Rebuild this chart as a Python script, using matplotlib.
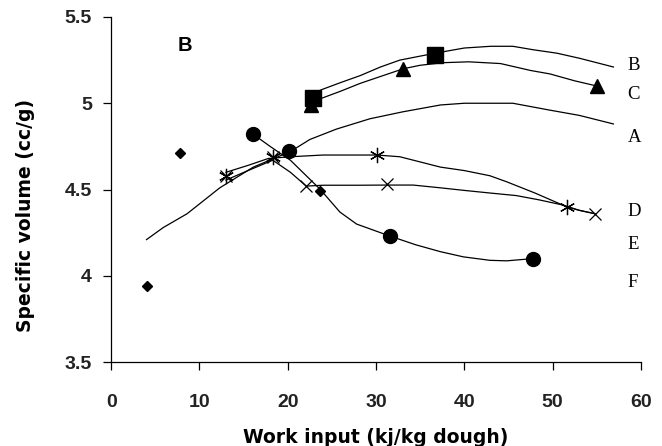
import matplotlib.pyplot as plt
import numpy as np

# markers (raw points)
a_x = [4.0, 7.8, 23.7]
a_y = [3.94, 4.71, 4.49]
b_x = [22.9, 36.7]
b_y = [5.03, 5.28]
c_x = [22.6, 33.1, 55.0]
c_y = [4.99, 5.20, 5.10]
d_x = [13.0, 18.3, 30.1, 51.6]
d_y = [4.58, 4.69, 4.70, 4.40]
e_x = [13.0, 18.3, 22.1, 31.2, 54.8]
e_y = [4.58, 4.69, 4.52, 4.53, 4.36]
f_x = [16.1, 20.1, 31.6, 47.8]
f_y = [4.82, 4.725, 4.23, 4.10]

# curves
a_cx = [4.0, 5.9, 8.6, 12.3, 16.1, 20.3, 22.5, 25.5, 29.3, 33.0, 37.3, 40.0, 45.5, 49.7, 53.0, 56.9]
a_cy = [4.21, 4.28, 4.36, 4.51, 4.63, 4.72, 4.79, 4.85, 4.91, 4.95, 4.99, 5.0, 5.0, 4.96, 4.93, 4.88]
b_cx = [23.0, 23.9, 26.0, 28.2, 30.5, 32.7, 36.7, 40.0, 43.0, 45.5, 47.8, 50.5, 53.1, 56.9]
b_cy = [5.06, 5.08, 5.12, 5.16, 5.21, 5.25, 5.29, 5.32, 5.33, 5.33, 5.31, 5.29, 5.26, 5.21]
c_cx = [23.0, 23.9, 26.0, 28.2, 30.5, 33.1, 35.0, 37.6, 40.5, 44.1, 47.5, 49.7, 52.5, 55.0]
c_cy = [5.02, 5.03, 5.07, 5.115, 5.155, 5.20, 5.22, 5.235, 5.24, 5.23, 5.19, 5.17, 5.13, 5.10]
d_cx = [13.0, 15.5, 17.8, 20.3, 24.0, 27.0, 30.1, 32.7, 35.0, 37.3, 40.0, 42.9, 44.8, 48.0, 51.6, 53.0, 54.8]
d_cy = [4.60, 4.64, 4.68, 4.69, 4.70, 4.70, 4.70, 4.69, 4.66, 4.63, 4.61, 4.58, 4.545, 4.48, 4.40, 4.38, 4.36]
e_cx = [13.0, 15.5, 17.6, 18.3, 20.3, 22.1, 24.0, 28.0, 31.2, 34.2, 37.3, 40.0, 42.9, 45.9, 48.5, 51.2, 53.0, 54.8]
e_cy = [4.555, 4.61, 4.655, 4.67, 4.60, 4.52, 4.525, 4.525, 4.526, 4.526, 4.51, 4.495, 4.48, 4.465, 4.44, 4.41, 4.38, 4.36]
f_cx = [16.1, 18.0, 20.3, 22.5, 23.7, 25.9, 27.8, 31.6, 34.5, 37.3, 39.9, 42.9, 44.8, 47.8]
f_cy = [4.82, 4.75, 4.67, 4.56, 4.50, 4.37, 4.30, 4.23, 4.18, 4.14, 4.11, 4.09, 4.087, 4.10]

labels = ['B', 'C', 'A', 'D', 'E', 'F']
label_y = [5.22, 5.048, 4.804, 4.37, 4.184, 3.964]

fig = plt.figure(figsize=(6.62, 4.46), dpi=100)
ax = fig.add_axes([0.168, 0.188, 0.8, 0.774])

lw = 0.9
for cx, cy in [(a_cx, a_cy), (b_cx, b_cy), (c_cx, c_cy), (d_cx, d_cy), (e_cx, e_cy), (f_cx, f_cy)]:
    ax.plot(cx, cy, color='black', lw=lw)

ax.plot(a_x, a_y, 'D', color='black', ms=5.5, ls='none')
ax.plot(b_x, b_y, 's', color='black', ms=11, ls='none')
ax.plot(c_x, c_y, '^', color='black', ms=10, ls='none')
ax.plot(d_x, d_y, marker=(6, 2, 0), color='black', ms=11, mew=0.9, ls='none')
ax.plot(e_x, e_y, 'x', color='black', ms=9, mew=0.9, ls='none')
ax.plot(f_x, f_y, 'o', color='black', ms=10, ls='none')

for lab, ly in zip(labels, label_y):
    ax.text(58.5, ly, lab, ha='left', va='center', fontsize=13.5,
            family='Liberation Serif', clip_on=False)

ax.text(8.4, 5.334, 'B', ha='center', va='center', fontsize=14.5,
        fontweight='bold', family='Liberation Sans')

ax.set_xlim(0, 60)
ax.set_ylim(3.5, 5.5)
ax.set_xticks(np.arange(0, 61, 10))
ax.set_yticks([3.5, 4, 4.5, 5, 5.5])
ax.set_yticklabels(['3.5', '4', '4.5', '5', '5.5'])
for s in ['top', 'right']:
    ax.spines[s].set_visible(False)
for s in ['left', 'bottom']:
    ax.spines[s].set_linewidth(0.9)
ax.tick_params(axis='both', direction='out', length=6, width=0.9)
ax.tick_params(axis='x', pad=17)
ax.tick_params(axis='y', pad=8)
for t in ax.get_xticklabels() + ax.get_yticklabels():
    t.set_fontsize(14)
    t.set_fontweight('bold')
    t.set_family('Liberation Sans')
    t.set_color('#222222')

ax.set_xlabel('Work input (kj/kg dough)', fontsize=13.5, fontweight='bold', labelpad=12)
ax.set_ylabel('Specific volume (cc/g)', fontsize=13.5, fontweight='bold')
ax.yaxis.set_label_coords(-0.143, 0.426)

fig.savefig('out.png', dpi=100)
